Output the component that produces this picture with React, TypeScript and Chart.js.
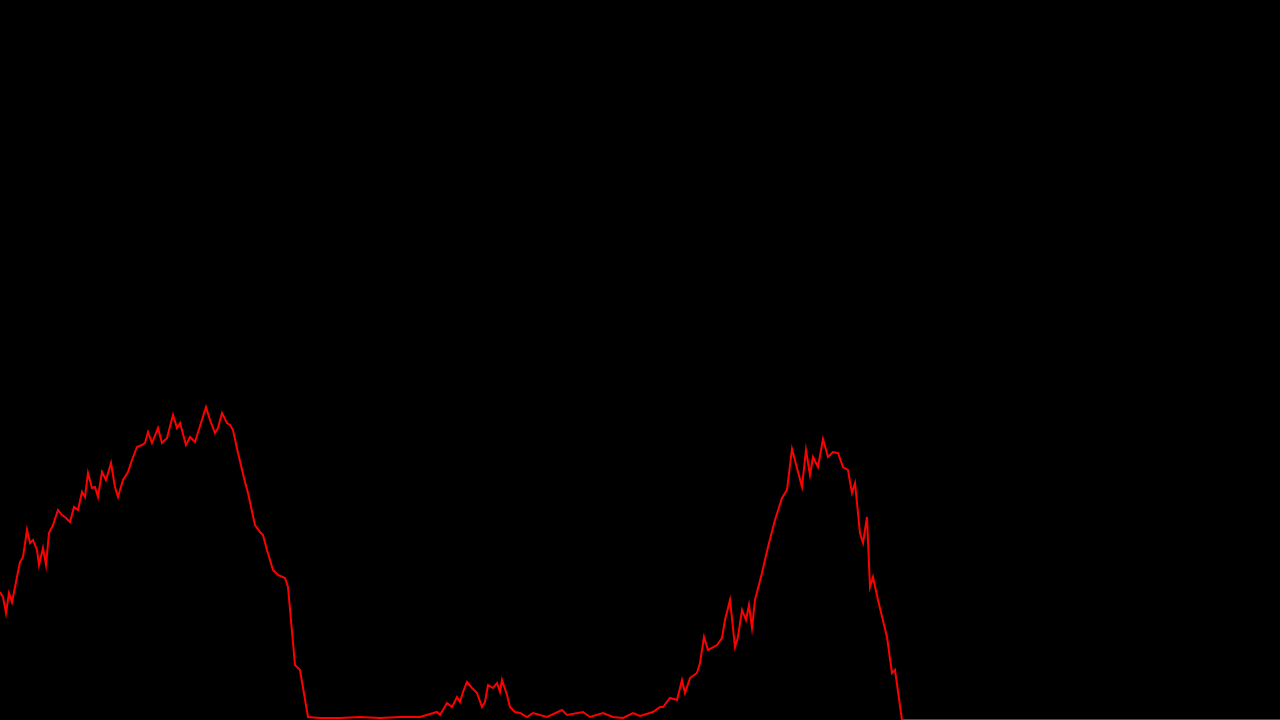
import React, { useEffect, useRef } from "react";
import { Chart, registerables } from "chart.js";

Chart.register(...registerables);

const days: number[] = [
  0, 1.5, 3, 4.5, 6, 8.5, 10, 11.5, 13.5, 15, 16.5, 18.5, 19.5, 21.5, 23, 24.5, 26.5, 29, 31, 32.5,
  35, 37, 39, 41, 42.5, 44, 46, 47.5, 49, 51, 53, 55.5, 57.5, 59, 61.5, 64, 66, 68.5, 71, 72.5,
  74, 76, 79, 81, 83.5, 86.5, 88.5, 90, 93, 95, 97.5, 103, 105, 107.5, 109, 111, 113.5, 115, 116.5, 119,
  122.5, 124, 127.5, 130, 131.5, 133.5, 136.5, 139, 142.5, 144, 147.5, 150, 154, 160, 170, 180, 190, 200, 203.5, 210,
  218.5, 220, 223.5, 226, 228.5, 230, 231.5, 233.5, 236, 238.5, 241, 242.5, 244, 246.5, 248.5, 250, 251, 253.5, 255, 257.5,
  260, 263.5, 266.5, 273.5, 281, 283.5, 291.5, 295, 301.5, 306.5, 311.5, 316.5, 320, 326.5, 330, 331.5, 335, 338.5, 341, 342.5,
  345, 348.5, 350, 352, 354, 358.5, 361, 362.5, 365, 367.5, 369, 371, 373, 374.5, 376, 377.5, 381, 384, 387.5, 391,
  393.5, 396, 398.5, 401, 403, 405, 406.5, 409, 411.5, 414, 416.5, 419, 421.5, 424, 426, 427.5, 430, 431.5, 433.5, 435,
  436.5, 439, 443.5, 446, 447.5, 451, 460, 500, 550, 600, 640,
];

const values: number[] = [
  640, 615, 535, 635, 590, 715, 790, 815, 950, 885, 900, 850, 775, 860, 775, 935, 975, 1050, 1025, 1015,
  990, 1065, 1050, 1140, 1115, 1235, 1160, 1165, 1115, 1240, 1200, 1285, 1165, 1115, 1200, 1240, 1300, 1365, 1375, 1385,
  1440, 1385, 1460, 1385, 1410, 1525, 1460, 1485, 1375, 1415, 1390, 1565, 1500, 1435, 1460, 1535, 1485, 1475, 1450, 1335,
  1190, 1135, 975, 940, 925, 850, 750, 725, 710, 665, 275, 250, 15, 10, 10, 15, 10, 15, 15, 15,
  40, 25, 85, 65, 115, 90, 140, 190, 160, 135, 65, 90, 175, 160, 185, 140, 200, 125, 65, 40,
  35, 15, 35, 15, 50, 25, 40, 15, 35, 15, 10, 35, 20, 40, 65, 65, 110, 100, 200, 135,
  210, 235, 285, 415, 350, 375, 410, 500, 600, 365, 415, 550, 500, 575, 460, 600, 735, 865, 1000, 1110,
  1150, 1355, 1260, 1165, 1350, 1225, 1315, 1265, 1405, 1315, 1340, 1335, 1265, 1250, 1135, 1185, 935, 885, 1015, 665,
  715, 600, 415, 235, 250, 0, 0, 0, 0, 0, 0,
];

const X_MAX = 640;
const Y_MAX = 3600;

export default function App() {
  const canvasRef = useRef<HTMLCanvasElement | null>(null);

  useEffect(() => {
    if (!canvasRef.current) return;
    const points = days.map((d, i) => ({ x: d, y: values[i] }));
    const chart = new Chart(canvasRef.current, {
      type: "line",
      data: {
        datasets: [
          {
            data: points,
            borderColor: "#ff0000",
            borderWidth: 2,
            pointRadius: 0,
            tension: 0,
            fill: false,
          },
        ],
      },
      options: {
        animation: false,
        responsive: true,
        maintainAspectRatio: false,
        layout: { padding: 0 },
        plugins: { legend: { display: false }, tooltip: { enabled: false } },
        scales: {
          x: { type: "linear", min: 0, max: X_MAX, display: false },
          y: { type: "linear", min: 0, max: Y_MAX, display: false },
        },
      },
    });
    return () => chart.destroy();
  }, []);

  return (
    <div
      style={{
        position: "fixed",
        top: 0,
        left: 0,
        width: 1280,
        height: 720,
        background: "#000000",
      }}
    >
      <canvas ref={canvasRef} />
    </div>
  );
}
